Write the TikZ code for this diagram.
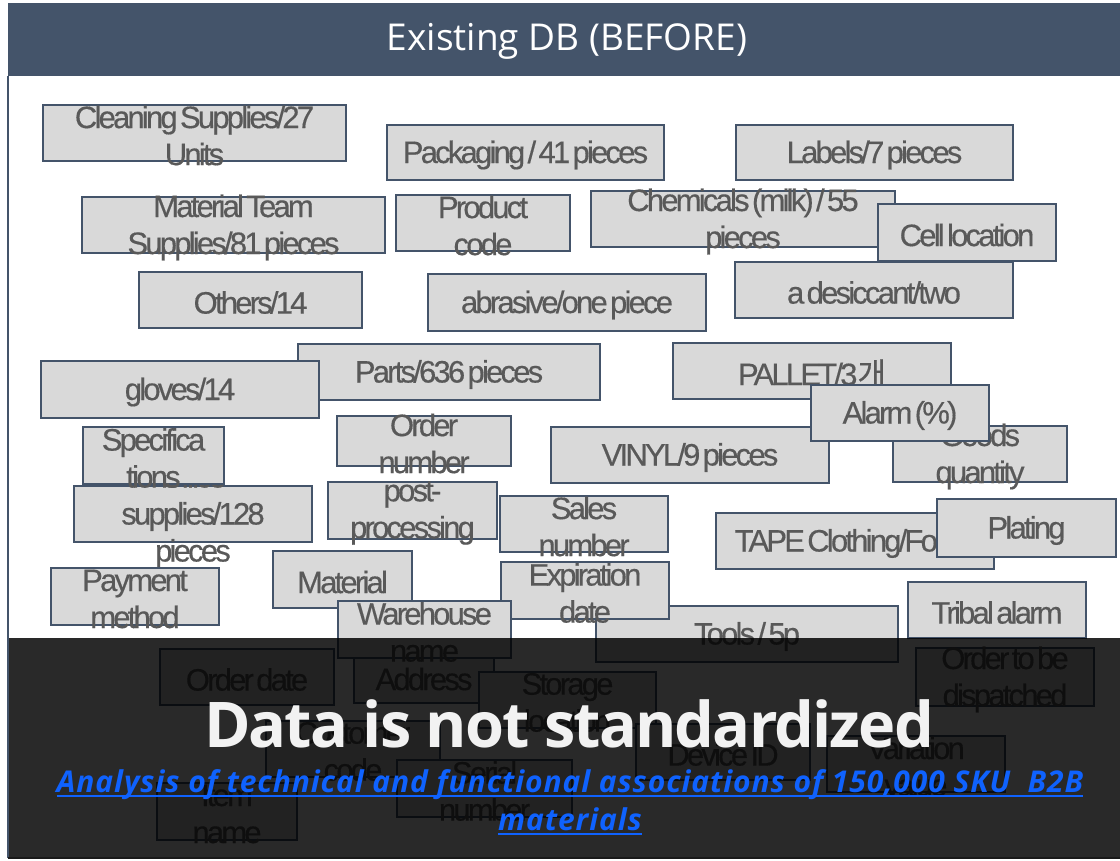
\documentclass[tikz,border=0pt]{standalone}
\usepackage{fontspec}
\setmainfont{Open Sans}
\newfontfamily\bxfont[LetterSpace=-9,WordSpace=0.4,FakeBold=0.4]{Liberation Sans}
\newfontfamily\krfont[FakeBold=0.4]{Noto Sans CJK KR}
\newfontfamily\hdfont[LetterSpace=-3]{Open Sans}
\newfontfamily\subfont[LetterSpace=3]{Open Sans}
\definecolor{myframe}{HTML}{44546A}
\definecolor{boxfill}{HTML}{D9D9D9}
\definecolor{boxtext}{HTML}{595959}
\definecolor{subblue}{HTML}{0F62FE}
\definecolor{headwhite}{HTML}{F2F2F2}
\newcommand\bx[6]{%
  \node[bxsty, minimum width={(#4-#2)*1pt}, minimum height={(#5-#3)*1pt}] (#1) at ({(#2+#4)/2},{(#3+#5)/2}) {};
  \node[bxtxt] (#1-t) at ([yshift=-2.5pt]#1.center) {#6};}
\begin{document}
\begin{tikzpicture}[x=1pt,y=-1pt,
  bxsty/.style={draw=myframe,fill=boxfill,line width=1.5pt,inner sep=0pt,outer sep=0pt},
  bxtxt/.style={text=boxtext,font={\bxfont\fontsize{31}{37}\selectfont},align=center,inner sep=0pt},
  subtxt/.style={text=subblue,font={\subfont\bfseries\itshape\fontsize{30}{36}\selectfont},inner sep=0pt,anchor=base},
  subline/.style={draw=subblue,line width=1.6pt}]
\useasboundingbox (0,0) rectangle (1120,861);
\fill[white] (0,0) rectangle (1120,861);
% title bar
\fill[myframe] (8,3) rectangle (1120,76);
\node[text=white,font={\fontsize{37}{40}\selectfont},anchor=base,inner sep=0pt] (title) at (567,51) {Existing DB (BEFORE)};
% boxes
\bx{cln}{43}{105}{346}{161}{Cleaning Supplies/27\\Units}
\bx{pkg}{387}{125}{664}{180}{Packaging / 41 pieces}
\bx{lab}{736}{125}{1013}{180}{Labels/7 pieces}
\bx{mtm}{82}{197}{385}{253}{Material Team\\Supplies/81 pieces}
\bx{pcd}{396}{195}{570}{251}{Product\\code}
\bx{chm}{591}{191}{895}{247}{Chemicals (milk) / 55\\pieces}
\bx{cel}{878}{204}{1056}{261}{Cell location}
\bx{des}{735}{262}{1013}{318}{a desiccant/two}
\bx{oth}{139}{272}{362}{328}{Others/14}
\bx{abr}{428}{274}{706}{331}{abrasive/one piece}
\bx{prt}{298}{344}{600}{400}{Parts/636 pieces}
\bx{glv}{41}{361}{319}{418}{gloves/14}
\bx{plt}{673}{343}{951}{399}{PALLET/3{\krfont 개}}
\bx{vin}{551}{427}{829}{483}{VINYL/9 pieces}
\bx{gds}{893}{426}{1067}{482}{Goods\\quantity}
\bx{alm}{811}{385}{989}{441}{Alarm (\%)}
\bx{ono}{337}{416}{511}{466}{Order\\number}
\bx{off}{74}{486}{312}{542}{Office\\supplies/128\\pieces}
\bx{spc}{83}{427}{224}{484}{Specifica\\tions}
\bx{pst}{328}{482}{497}{539}{post-\\processing}
\bx{sal}{500}{496}{668}{552}{Sales\\number}
\bx{tap}{716}{513}{994}{569}{TAPE Clothing/Foam}
\bx{pla}{937}{499}{1116}{557}{Plating}
\bx{pay}{51}{568}{219}{625}{Payment\\method}
\bx{mat}{273}{551}{412}{608}{Material}
\bx{tls}{596}{606}{898}{662}{Tools / 5p}
\bx{exp}{501}{562}{669}{619}{Expiration\\date}
\bx{trb}{908}{582}{1086}{638}{Tribal alarm}
\bx{odt}{160}{649}{334}{705}{Order date}
\bx{adr}{354}{650}{494}{703}{Address}
\bx{whs}{338}{601}{511}{658}{Warehouse\\name}
\bx{stg}{479}{672}{656}{728}{Storage\\location}
\bx{cus}{266}{721}{440}{777}{Customer\\code}
\bx{itm}{157}{783}{297}{840}{Item\\name}
\bx{ser}{397}{760}{572}{817}{Serial\\number}
\bx{dev}{636}{724}{810}{780}{Device ID}
\bx{var}{827}{736}{1005}{792}{Variation\\value}
\bx{otd}{916}{648}{1094}{706}{Order to be\\dispatched}
% frame lines
\draw[myframe,line width=1.5pt] (8,76) -- (8,858);
% dark overlay
\fill[black,opacity=0.84] (9,638) rectangle (1120,858);
\draw[black!90,line width=1.5pt] (8,858) -- (1120,858);
% overlay texts
\node[text=headwhite,font={\hdfont\bfseries\fontsize{63}{70}\selectfont},anchor=base,inner sep=0pt] (head) at (569,747) {Data is not standardized};
\node[subtxt] (s1) at (570,792) {Analysis of technical and functional associations of 150,000 SKU\ \ B2B};
\node[subtxt] (s2) at (570,830) {materials};
\draw[subline] ([yshift=-4pt]s1.base west) -- ([yshift=-4pt]s1.base east);
\draw[subline] ([yshift=-4pt]s2.base west) -- ([yshift=-4pt]s2.base east);
\end{tikzpicture}
\end{document}
